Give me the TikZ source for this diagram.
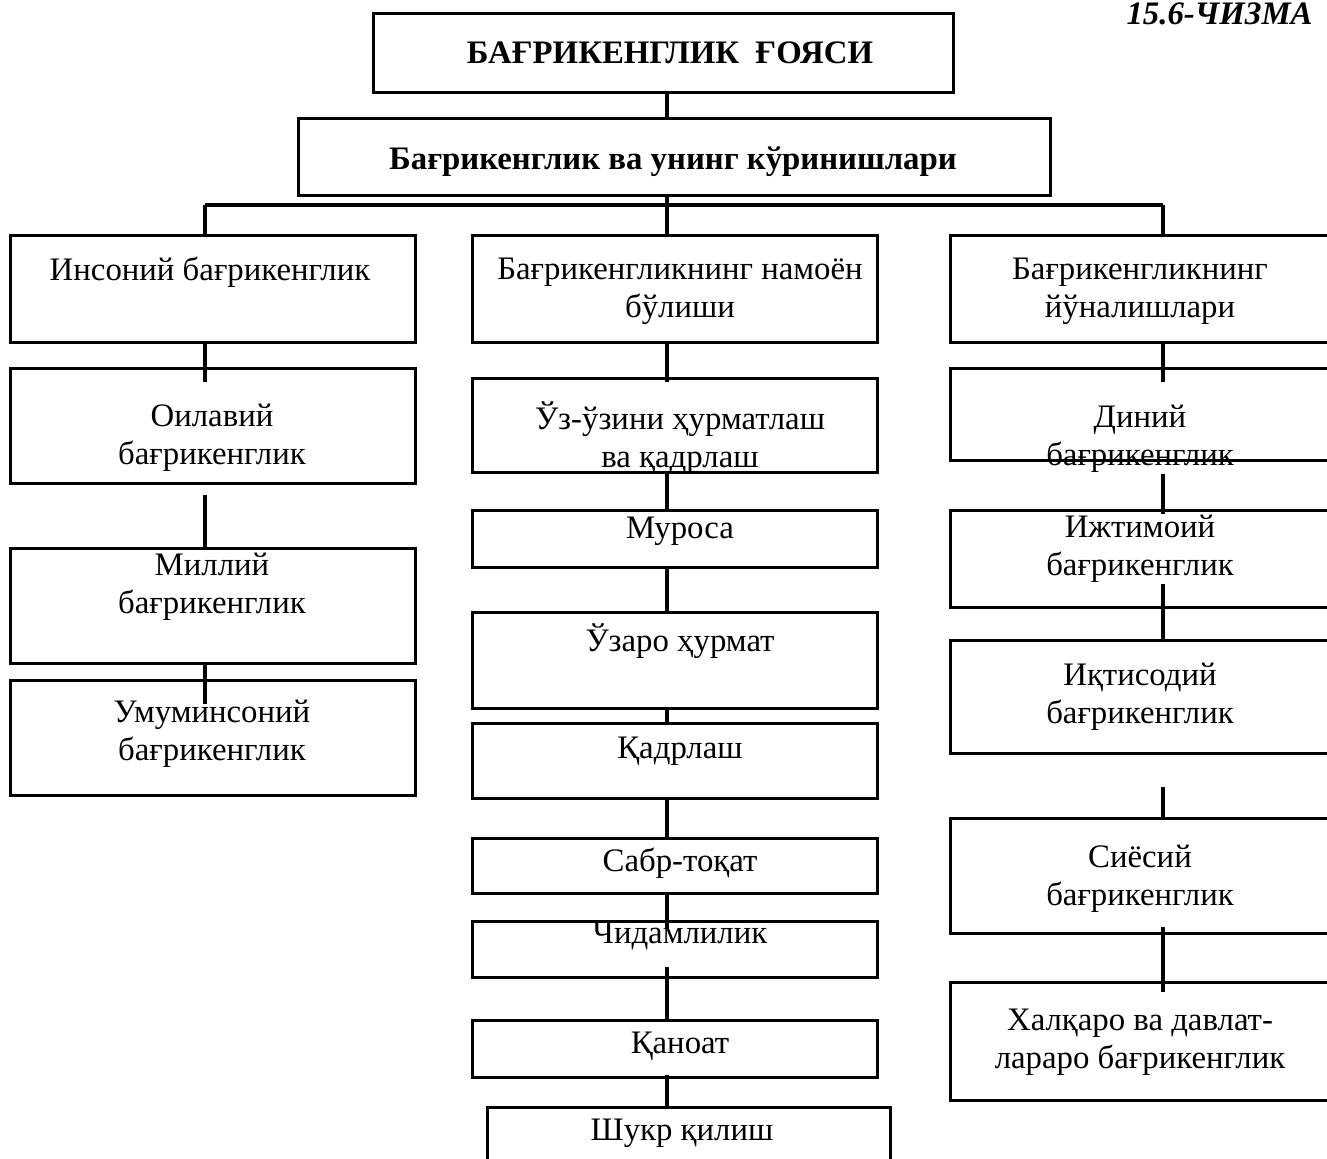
\documentclass[tikz,border=0pt]{standalone}
\usepackage{fontspec}
\setmainfont{Liberation Serif}
\usetikzlibrary{calc, fit, positioning}
\tikzset{
    box/.style={draw, line width=1.5pt, inner sep=0pt},
    txt/.style={align=center, inner sep=0pt, font=\fontsize{16.4}{18.8}\selectfont},
    btxt/.style={align=center, inner sep=0pt, font=\fontsize{16.4}{18.8}\selectfont\bfseries},
    link/.style={line width=2pt},
}

\begin{document}
\begin{tikzpicture}[x=0.5pt, y=-0.5pt]
    \useasboundingbox (0,0) rectangle (1327,1158);
    \node[anchor=north east, inner sep=0pt, font=\fontsize{16.4}{18.8}\selectfont\bfseries\itshape] (fig) at (1313,2) {15.6-ЧИЗМА};
    % top
    \node[box, fit={(373,13) (953,92)}] (idea) {};
    \node[btxt] (ideat) at (670,53) {БАҒРИКЕНГЛИК\ \ ҒОЯСИ};
    \node[box, fit={(298,118) (1050,195)}] (kinds) {};
    \node[btxt] (kindst) at (673,162) {Бағрикенглик ва унинг кўринишлари};
    \coordinate (barL) at (205,205);
    \coordinate (barM) at (667,205);
    \coordinate (barR) at (1163,205);
    % left column
    \node[box, fit={(10,235) (415,342)}] (a1) {};
    \node[box, fit={(10,368) (415,483)}] (a2) {};
    \node[box, fit={(10,548) (415,663)}] (a3) {};
    \node[box, fit={(10,680) (415,795)}] (a4) {};
    \node[txt] (a1t) at (210,272) {Инсоний бағрикенглик};
    \node[txt] (a2t) at (212,438) {Оилавий\\бағрикенглик};
    \node[txt] (a3t) at (212,587) {Миллий\\бағрикенглик};
    \node[txt] (a4t) at (212,734) {Умуминсоний\\бағрикенглик};
    % middle column
    \node[box, fit={(472,235) (877,342)}] (b1) {};
    \node[box, fit={(472,378) (877,472)}] (b2) {};
    \node[box, fit={(472,510) (877,567)}] (b3) {};
    \node[box, fit={(472,612) (877,708)}] (b4) {};
    \node[box, fit={(472,723) (877,798)}] (b5) {};
    \node[box, fit={(472,838) (877,893)}] (b6) {};
    \node[box, fit={(472,921) (877,977)}] (b7) {};
    \node[box, fit={(472,1020) (877,1077)}] (b8) {};
    \node[box, fit={(487,1107) (890,1175)}] (b9) {};
    \node[txt] (b1t) at (680,291) {Бағрикенгликнинг намоён\\бўлиши};
    \node[txt] (b2t) at (680,438) {Ўз-ўзини ҳурматлаш\\ва қадрлаш};
    \node[txt] (b3t) at (680,531) {Муроса};
    \node[txt] (b4t) at (680,641) {Ўзаро ҳурмат};
    \node[txt] (b5t) at (680,751) {Қадрлаш};
    \node[txt] (b6t) at (680,863) {Сабр-тоқат};
    \node[txt] (b7t) at (680,936) {Чидамлилик};
    \node[txt] (b8t) at (680,1046) {Қаноат};
    \node[txt] (b9t) at (682,1133) {Шукр қилиш};
    % right column
    \node[box, fit={(950,235) (1340,342)}] (c1) {};
    \node[box, fit={(950,368) (1340,460)}] (c2) {};
    \node[box, fit={(950,510) (1340,607)}] (c3) {};
    \node[box, fit={(950,640) (1340,753)}] (c4) {};
    \node[box, fit={(950,818) (1340,933)}] (c5) {};
    \node[box, fit={(950,982) (1340,1100)}] (c6) {};
    \node[txt] (c1t) at (1140,291) {Бағрикенгликнинг\\йўналишлари};
    \node[txt] (c2t) at (1140,439) {Диний\\бағрикенглик};
    \node[txt] (c3t) at (1140,549) {Ижтимоий\\бағрикенглик};
    \node[txt] (c4t) at (1140,697) {Иқтисодий\\бағрикенглик};
    \node[txt] (c5t) at (1140,879) {Сиёсий\\бағрикенглик};
    \node[txt] (c6t) at (1140,1042) {Халқаро ва давлат-\\лараро бағрикенглик};
    % connectors
    \draw[link] (barM |- idea.south) -- (barM |- kinds.north);
    \draw[link] (barM |- kinds.south) -- (barM |- b1.north);
    \draw[link] (barL) -- (barR);
    \draw[link] (barL) -- (barL |- a1.north);
    \draw[link] (barR) -- (barR |- c1.north);
    \draw[link, shorten >=-7.5pt] (barL |- a1.south) -- (barL |- a2.north);
    \draw[link, shorten <=5pt] (barL |- a2.south) -- (barL |- a3.north);
    \draw[link, shorten >=-12.5pt] (barL |- a3.south) -- (barL |- a4.north);
    \draw[link, shorten >=-2.5pt] (barM |- b1.south) -- (barM |- b2.north);
    \draw[link] (barM |- b2.south) -- (barM |- b3.north);
    \draw[link] (barM |- b3.south) -- (barM |- b4.north);
    \draw[link] (barM |- b4.south) -- (barM |- b5.north);
    \draw[link] (barM |- b5.south) -- (barM |- b6.north);
    \draw[link, shorten >=-4pt] (barM |- b6.south) -- (barM |- b7.north);
    \draw[link, shorten <=-6pt] (barM |- b7.south) -- (barM |- b8.north);
    \draw[link, shorten <=-2pt, shorten >=-1.5pt] (barM |- b8.south) -- (barM |- b9.north);
    \draw[link, shorten >=-7.5pt] (barR |- c1.south) -- (barR |- c2.north);
    \draw[link, shorten <=6pt, shorten >=-2.5pt] (barR |- c2.south) -- (barR |- c3.north);
    \draw[link, shorten <=-12.5pt] (barR |- c3.south) -- (barR |- c4.north);
    \draw[link, shorten <=16pt] (barR |- c4.south) -- (barR |- c5.north);
    \draw[link, shorten <=-4pt, shorten >=-5.5pt] (barR |- c5.south) -- (barR |- c6.north);
\end{tikzpicture}
\end{document}
